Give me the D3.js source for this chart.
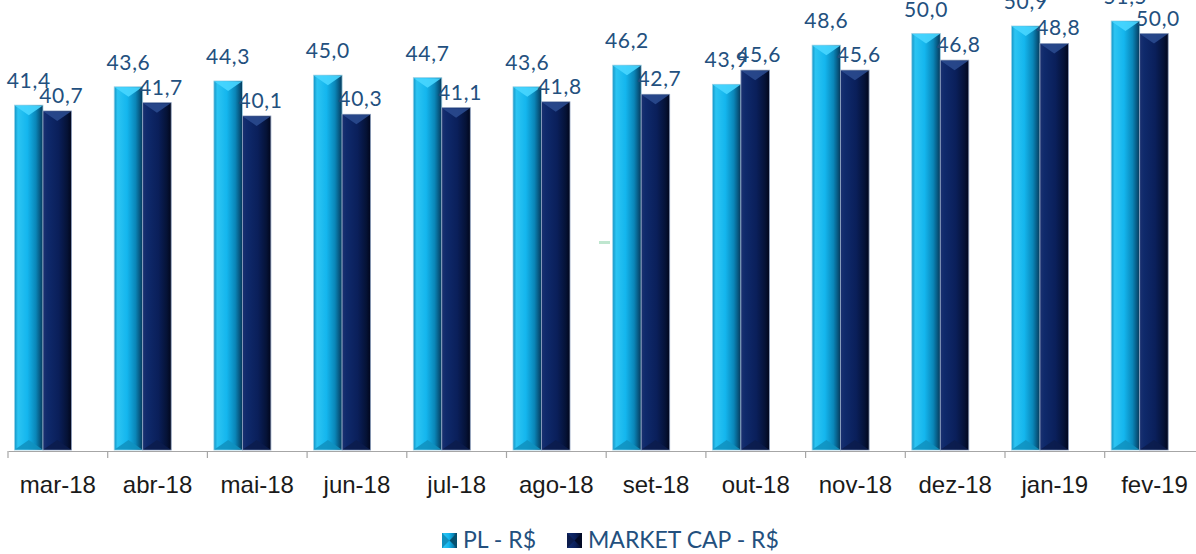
<!DOCTYPE html>
<html>
<head>
<meta charset="utf-8">
<script src="https://cdn.jsdelivr.net/npm/d3@7"></script>
<style>
  body { margin: 0; background: #fff; }
  svg { display: block; font-family: Lato, "Open Sans", sans-serif; }
</style>
</head>
<body>
<svg id="chart" width="1196" height="554"></svg>
<script>
// Data
const months = ["mar-18", "abr-18", "mai-18", "jun-18", "jul-18", "ago-18",
                "set-18", "out-18", "nov-18", "dez-18", "jan-19", "fev-19"];
const plValues = [41.4, 43.6, 44.3, 45.0, 44.7, 43.6, 46.2, 43.9, 48.6, 50.0, 50.9, 51.5];
const mcapValues = [40.7, 41.7, 40.1, 40.3, 41.1, 41.8, 42.7, 45.6, 45.6, 46.8, 48.8, 50.0];
const seriesNames = ["PL - R$", "MARKET CAP - R$"];

const svg = d3.select("#chart");

// scales
const x = d3.scaleBand().domain(months).range([8, 8 + 12 * 99.7]).padding(0);
const y = d3.scaleLinear().domain([0, 50]).range([450, 33.5]);
const barW = 28.5;
const barOffset = 6.5;
const bevel = 10;

const fmt = v => d3.format(".1f")(v).replace(".", ",");

// gradients
const defs = svg.append("defs");
function hGrad(id, stops) {
    const g = defs.append("linearGradient").attr("id", id)
        .attr("x1", "0%").attr("x2", "100%").attr("y1", "0%").attr("y2", "0%");
    stops.forEach(s => g.append("stop").attr("offset", s[0]).attr("stop-color", s[1]));
}
hGrad("gradPL", [["0%", "#1593c4"], ["12%", "#2cc4f2"], ["45%", "#14b6ee"], ["75%", "#0a86b8"], ["100%", "#06385a"]]);
hGrad("gradMC", [["0%", "#1b3170"], ["15%", "#0f2a6c"], ["55%", "#0a1f5a"], ["85%", "#051236"], ["100%", "#01061c"]]);

const series = [
    { name: seriesNames[0], values: plValues, fill: "url(#gradPL)", cap: "#48d6ff", foot: "#1190be", stroke: "#9fd3e6", dx: 0, labelGap: 17, labelShift: 0 },
    { name: seriesNames[1], values: mcapValues, fill: "url(#gradMC)", cap: "#2a4a8e", foot: "#0c1c4c", stroke: "#8ea0bf", dx: barW, labelGap: 8, labelShift: 4 }
];

// stray mark seen in the reference
svg.append("rect").attr("x", 599).attr("y", 241).attr("width", 11).attr("height", 3).attr("fill", "#bfe6cf");

// bars
series.forEach(s => {
    const g = svg.append("g");
    const bars = g.selectAll("g.bar")
        .data(months.map((m, i) => ({ m, v: s.values[i] })))
        .enter().append("g").attr("class", "bar");

    bars.append("rect")
        .attr("x", d => x(d.m) + barOffset + s.dx)
        .attr("y", d => y(d.v))
        .attr("width", barW)
        .attr("height", d => y(0) - y(d.v))
        .attr("fill", s.fill)
        .attr("stroke", s.stroke)
        .attr("stroke-width", 0.8);

    // top bevel (inverted triangle highlight)
    bars.append("path")
        .attr("d", d => {
            const x0 = x(d.m) + barOffset + s.dx, t = y(d.v);
            return `M${x0 + 0.5},${t + 0.5} L${x0 + barW - 0.5},${t + 0.5} L${x0 + barW / 2},${t + bevel} Z`;
        })
        .attr("fill", s.cap)
        .attr("opacity", 0.9);

    // bottom bevel
    bars.append("path")
        .attr("d", d => {
            const x0 = x(d.m) + barOffset + s.dx, b = y(0);
            return `M${x0 + 0.5},${b - 0.5} L${x0 + barW - 0.5},${b - 0.5} L${x0 + barW / 2},${b - bevel} Z`;
        })
        .attr("fill", s.foot)
        .attr("opacity", 0.85);

    // value labels
    g.selectAll("text.val")
        .data(months.map((m, i) => ({ m, v: s.values[i] })))
        .enter().append("text")
        .attr("class", "val")
        .attr("x", d => x(d.m) + barOffset + s.dx + barW / 2 + s.labelShift)
        .attr("y", d => y(d.v) - s.labelGap)
        .attr("text-anchor", "middle")
        .attr("font-size", 21)
        .attr("letter-spacing", 0.7)
        .attr("fill", "#23507e")
        .text(d => fmt(d.v));
});

// x axis
const axis = svg.append("g")
    .attr("transform", "translate(0,451)")
    .call(d3.axisBottom(x).tickSize(0).tickPadding(0).tickFormat(""));
axis.select(".domain").attr("stroke", "#a6a6a6").attr("stroke-width", 1.2);
axis.selectAll(".tick").remove();

// boundary ticks between categories
const edges = months.map(m => x(m)).concat([x(months[months.length - 1]) + x.bandwidth()]);
axis.selectAll("line.edge").data(edges).enter().append("line")
    .attr("class", "edge")
    .attr("x1", d => d).attr("x2", d => d)
    .attr("y1", 0).attr("y2", 7)
    .attr("stroke", "#a6a6a6").attr("stroke-width", 1.2);

axis.selectAll("text.lab").data(months).enter().append("text")
    .attr("class", "lab")
    .attr("x", d => x(d) + x.bandwidth() / 2)
    .attr("y", 42)
    .attr("text-anchor", "middle")
    .attr("font-size", 24)
    .attr("fill", "#1a1a1a")
    .text(d => d);

// legend
const legend = svg.append("g").attr("transform", "translate(442,533)");
const legendX = [0, 125];
series.forEach((s, i) => {
    const lg = legend.append("g").attr("transform", `translate(${legendX[i]},0)`);
    lg.append("rect").attr("width", 15).attr("height", 15).attr("fill", s.fill);
    lg.append("path").attr("d", "M0,0 L7.5,7.5 L0,15 Z").attr("fill", s.foot);
    lg.append("path").attr("d", "M15,0 L7.5,7.5 L15,15 Z").attr("fill", i === 0 ? "#06506e" : "#020a26");
    lg.append("text")
        .attr("x", 21).attr("y", 15)
        .attr("font-size", 23)
        .attr("fill", "#23507e")
        .text(s.name);
});
</script>
</body>
</html>
